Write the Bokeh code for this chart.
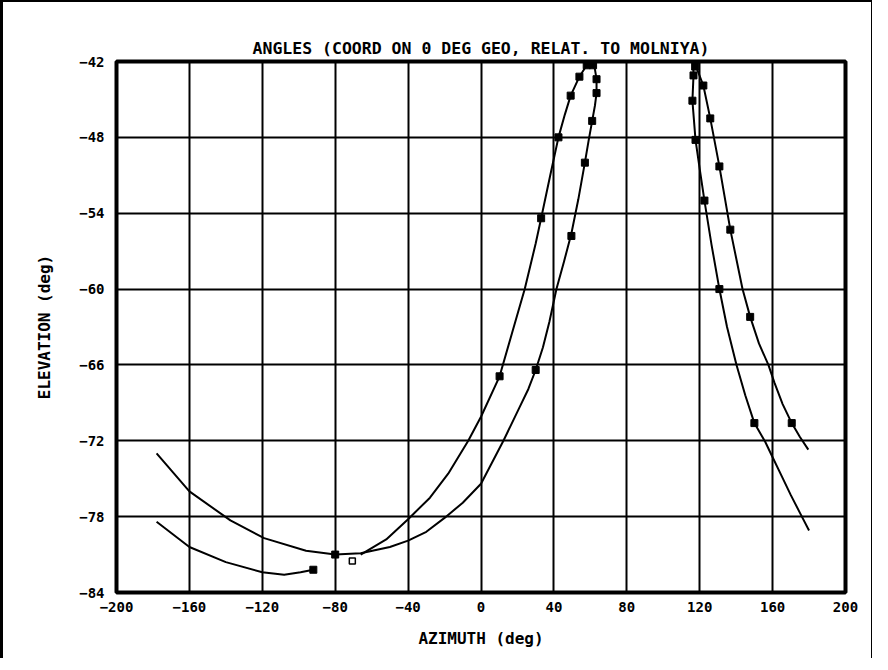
from bokeh.plotting import figure
from bokeh.models import Range1d, FixedTicker
from bokeh.embed import file_html
from bokeh.resources import INLINE

# ---- data ----
x_ticks = [-200, -160, -120, -80, -40, 0, 40, 80, 120, 160, 200]
y_ticks = [-84, -78, -72, -66, -60, -54, -48, -42]

# curve A (long curve, low-left to top of left pair, right branch)
a_az = [-178, -160, -137.5, -119, -96, -80, -66, -50, -40, -30, -20, -10, 0, 12.3, 21, 26, 30, 34, 37.5, 41.4, 45.6, 49.6, 53.4, 57, 59, 61, 62.5, 63.4, 63.4, 62.5, 61]
a_el = [-73.0, -76.0, -78.3, -79.7, -80.7, -81.0, -80.9, -80.4, -79.9, -79.2, -78.1, -76.9, -75.4, -72.0, -69.4, -67.9, -66.4, -64.6, -62.6, -60.0, -57.8, -55.6, -52.9, -50.0, -48.3, -46.7, -45.5, -44.5, -43.4, -42.6, -42.2]
a_mk_az = [-80, 30, 49.6, 57, 61, 63.4, 63.4, 61.5]
a_mk_el = [-81.0, -66.4, -55.8, -50.0, -46.7, -44.5, -43.4, -42.3]

# curve B (steeper left branch of left pair)
b_az = [-66, -52, -40, -28, -18, -7, 0, 10.2, 17, 24, 30, 33, 38, 42.5, 46, 49.2, 54, 58]
b_el = [-81.0, -79.8, -78.2, -76.5, -74.6, -72.0, -70.1, -66.9, -63.5, -60.0, -56.4, -54.4, -51.0, -48.0, -46.2, -44.7, -43.2, -42.3]
b_mk_az = [10.2, 33, 42.5, 49.2, 54, 58]
b_mk_el = [-66.9, -54.4, -48.0, -44.7, -43.2, -42.3]

# curve C (lower-left segment)
c_az = [-178, -160, -140, -120, -108, -99, -92]
c_el = [-78.4, -80.4, -81.6, -82.4, -82.6, -82.4, -82.2]
c_mk_az = [-92]
c_mk_el = [-82.2]

# open marker
o_az = [-70.6]
o_el = [-81.5]

# right pair, outer curve R1
r1_az = [117.5, 122, 125.8, 130.8, 136.8, 143.5, 147.7, 152.5, 157.7, 161, 165.5, 170.5, 175, 179.6]
r1_el = [-42.2, -43.9, -46.5, -50.3, -55.3, -60.0, -62.2, -64.3, -66.0, -67.4, -69.1, -70.6, -71.7, -72.7]
r1_mk_az = [117.5, 122, 125.8, 130.8, 136.8, 147.7, 170.5]
r1_mk_el = [-42.4, -43.9, -46.5, -50.3, -55.3, -62.2, -70.6]

# right pair, inner curve R2
r2_az = [116.5, 116.6, 116.0, 117.7, 120, 122.6, 126.5, 130.8, 135, 140.2, 145, 150, 156, 160, 165, 170, 175, 180]
r2_el = [-42.1, -43.1, -45.1, -48.2, -50.5, -53.0, -56.5, -60.0, -63.0, -66.0, -68.4, -70.6, -72.1, -73.3, -74.8, -76.3, -77.7, -79.1]
r2_mk_az = [116.6, 116.0, 117.7, 122.6, 130.8, 150]
r2_mk_el = [-43.1, -45.1, -48.2, -53.0, -60.0, -70.6]

FONT = "DejaVu Sans Mono"

p = figure(frame_width=729, frame_height=531,
           x_range=Range1d(-200, 200), y_range=Range1d(-84, -42),
           output_backend="svg", toolbar_location=None,
           min_border_left=113, min_border_right=26, min_border_top=59, min_border_bottom=66,
           title="ANGLES (COORD ON 0 DEG GEO, RELAT. TO MOLNIYA)")
p.styles = {"border-top": "2px solid black", "border-left": "3px solid black", "border-right": "1px solid black"}

p.title.align = "center"
p.title.text_font = FONT
p.title.text_font_size = "16.5px"
p.title.text_font_style = "bold"
p.title.text_color = "black"
p.title.standoff = 8

p.outline_line_color = "black"
p.outline_line_width = 4

for ax, ticks in ((p.xaxis, x_ticks), (p.yaxis, y_ticks)):
    ax.ticker = FixedTicker(ticks=ticks)
    ax.axis_line_color = None
    ax.major_tick_line_color = None
    ax.minor_tick_line_color = None
    ax.major_tick_in = 0
    ax.major_tick_out = 0
    ax.minor_tick_in = 0
    ax.minor_tick_out = 0
    ax.major_label_text_font = FONT
    ax.major_label_text_font_style = "bold"
    ax.major_label_text_font_size = "14px"
    ax.major_label_text_color = "black"
    ax.axis_label_text_font = FONT
    ax.axis_label_text_font_style = "bold"
    ax.axis_label_text_font_size = "16px"
    ax.axis_label_text_color = "black"

p.xaxis.axis_label = "AZIMUTH (deg)"
p.yaxis.axis_label = "ELEVATION (deg)"
p.xaxis.major_label_standoff = 9
p.yaxis.major_label_standoff = 12
p.xaxis.axis_label_standoff = 14
p.yaxis.axis_label_standoff = 22

p.xgrid.ticker = FixedTicker(ticks=x_ticks)
p.ygrid.ticker = FixedTicker(ticks=y_ticks)
for g in (p.xgrid, p.ygrid):
    g.grid_line_color = "black"
    g.grid_line_width = 2
    g.grid_line_alpha = 1

for xs, ys in ((a_az, a_el), (b_az, b_el), (c_az, c_el), (r1_az, r1_el), (r2_az, r2_el)):
    p.line(xs, ys, line_color="black", line_width=2, line_join="round")

for xs, ys in ((a_mk_az, a_mk_el), (b_mk_az, b_mk_el), (c_mk_az, c_mk_el),
               (r1_mk_az, r1_mk_el), (r2_mk_az, r2_mk_el)):
    p.scatter(xs, ys, marker="square", size=7, fill_color="black", line_color="black")

p.scatter(o_az, o_el, marker="square", size=6, fill_color="white", line_color="black", line_width=1.5)

open("out.html", "w").write(file_html(p, INLINE))
